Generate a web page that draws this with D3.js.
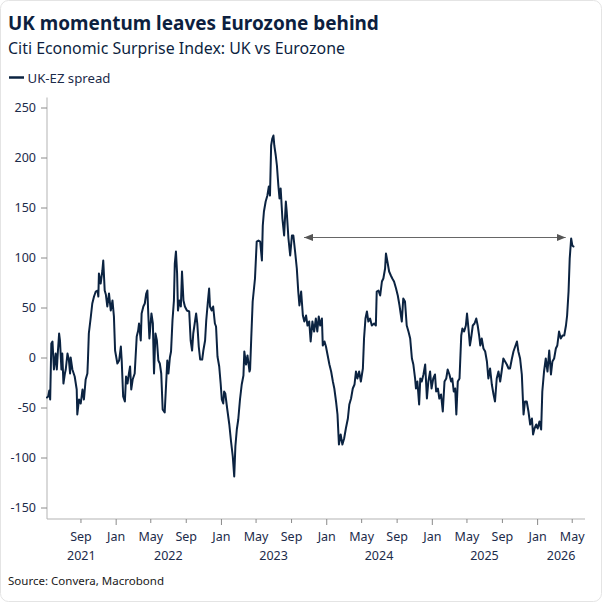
<!DOCTYPE html>
<html>
<head>
<meta charset="utf-8">
<script src="https://cdn.jsdelivr.net/npm/d3@7"></script>
<style>
  html, body { margin: 0; padding: 0; background: #fff; }
  svg { display: block; }
  text { font-family: "Noto Sans", "Open Sans", sans-serif; }
</style>
</head>
<body>
<svg id="chart" width="602" height="602"></svg>
<script>
// ---------------- DATA ----------------
const titleText = "UK momentum leaves Eurozone behind";
const subtitleText = "Citi Economic Surprise Index: UK vs Eurozone";
const seriesName = "UK-EZ spread";
const sourceText = "Source: Convera, Macrobond";

const dates = [
  "2021-05-08","2021-05-12","2021-05-16","2021-05-19","2021-05-23","2021-05-27",
  "2021-06-01","2021-06-07","2021-06-11","2021-06-15","2021-06-19","2021-06-22","2021-06-27","2021-06-30",
  "2021-07-04","2021-07-09","2021-07-12","2021-07-18","2021-07-23","2021-07-27","2021-07-29",
  "2021-08-04","2021-08-12","2021-08-19","2021-08-21","2021-08-27",
  "2021-09-02","2021-09-08","2021-09-13","2021-09-19","2021-09-25","2021-09-27","2021-09-30",
  "2021-10-07","2021-10-12","2021-10-18","2021-10-24","2021-10-30",
  "2021-11-02","2021-11-04","2021-11-10","2021-11-16","2021-11-19","2021-11-24","2021-11-28",
  "2021-12-03","2021-12-09","2021-12-15","2021-12-21","2021-12-26","2021-12-30",
  "2022-01-07","2022-01-13","2022-01-19","2022-01-22","2022-01-27",
  "2022-02-02","2022-02-06","2022-02-11","2022-02-16","2022-02-20","2022-02-24",
  "2022-03-01","2022-03-08","2022-03-15","2022-03-20","2022-03-23","2022-03-29",
  "2022-04-01","2022-04-07","2022-04-12","2022-04-17","2022-04-21","2022-04-24","2022-04-28",
  "2022-05-05","2022-05-10","2022-05-14","2022-05-19","2022-05-24","2022-05-29",
  "2022-06-03","2022-06-08","2022-06-13","2022-06-20","2022-06-25","2022-06-29",
  "2022-07-03","2022-07-08","2022-07-12","2022-07-17","2022-07-22","2022-07-25","2022-07-29",
  "2022-08-02","2022-08-05","2022-08-10","2022-08-15","2022-08-19","2022-08-24","2022-08-29",
  "2022-09-05","2022-09-13","2022-09-18","2022-09-23","2022-09-27",
  "2022-10-02","2022-10-07","2022-10-11","2022-10-16","2022-10-21","2022-10-28",
  "2022-11-01","2022-11-07","2022-11-11","2022-11-17","2022-11-21","2022-11-24","2022-11-30",
  "2022-12-05","2022-12-11","2022-12-15","2022-12-20","2022-12-26","2022-12-31",
  "2023-01-04","2023-01-09","2023-01-12","2023-01-16","2023-01-23","2023-01-30",
  "2023-02-05","2023-02-11","2023-02-16","2023-02-20","2023-02-25",
  "2023-03-02","2023-03-08","2023-03-14","2023-03-20","2023-03-23","2023-03-29",
  "2023-04-03","2023-04-10","2023-04-12","2023-04-16","2023-04-21","2023-04-29",
  "2023-05-05","2023-05-11","2023-05-17","2023-05-23","2023-05-26","2023-05-30",
  "2023-06-05","2023-06-11","2023-06-16","2023-06-20","2023-06-24","2023-06-28",
  "2023-07-02","2023-07-05","2023-07-10","2023-07-14","2023-07-19","2023-07-23","2023-07-27",
  "2023-08-02","2023-08-08","2023-08-14","2023-08-17","2023-08-23","2023-08-29",
  "2023-09-04","2023-09-09","2023-09-15","2023-09-21","2023-09-26","2023-09-30",
  "2023-10-06","2023-10-12","2023-10-17","2023-10-23","2023-10-28",
  "2023-11-03","2023-11-08","2023-11-14","2023-11-20","2023-11-26",
  "2023-12-01","2023-12-06","2023-12-11","2023-12-17","2023-12-20","2023-12-26","2023-12-31",
  "2024-01-06","2024-01-12","2024-01-18","2024-01-24","2024-01-29",
  "2024-02-04","2024-02-09","2024-02-14","2024-02-20","2024-02-26",
  "2024-03-03","2024-03-09","2024-03-16","2024-03-21","2024-03-27",
  "2024-04-02","2024-04-08","2024-04-13","2024-04-18","2024-04-24","2024-04-30",
  "2024-05-07","2024-05-11","2024-05-16","2024-05-21","2024-05-26",
  "2024-06-01","2024-06-07","2024-06-15","2024-06-21","2024-06-24","2024-06-30",
  "2024-07-06","2024-07-12","2024-07-17","2024-07-23","2024-07-26","2024-07-31",
  "2024-08-06","2024-08-12","2024-08-17","2024-08-23","2024-08-30",
  "2024-09-05","2024-09-11","2024-09-19","2024-09-24","2024-09-30",
  "2024-10-06","2024-10-12","2024-10-18","2024-10-24","2024-10-29",
  "2024-11-04","2024-11-07","2024-11-12","2024-11-18","2024-11-22","2024-11-27",
  "2024-12-03","2024-12-09","2024-12-15","2024-12-20","2024-12-26","2024-12-31",
  "2025-01-06","2025-01-12","2025-01-16","2025-01-22","2025-01-27",
  "2025-02-02","2025-02-08","2025-02-14","2025-02-20","2025-02-25",
  "2025-03-03","2025-03-09","2025-03-13","2025-03-18","2025-03-23","2025-03-27",
  "2025-04-01","2025-04-07","2025-04-13","2025-04-17","2025-04-23","2025-04-29",
  "2025-05-03","2025-05-08","2025-05-13","2025-05-17","2025-05-23","2025-05-29",
  "2025-06-04","2025-06-09","2025-06-14","2025-06-18","2025-06-23","2025-06-29",
  "2025-07-05","2025-07-11","2025-07-16","2025-07-22","2025-07-28",
  "2025-08-03","2025-08-08","2025-08-14","2025-08-20","2025-08-26","2025-08-31",
  "2025-09-06","2025-09-12","2025-09-18","2025-09-24","2025-09-29",
  "2025-10-05","2025-10-11","2025-10-17","2025-10-23","2025-10-28",
  "2025-11-03","2025-11-09","2025-11-15","2025-11-20","2025-11-26",
  "2025-12-02","2025-12-08","2025-12-14","2025-12-18","2025-12-23","2025-12-29",
  "2026-01-03","2026-01-09","2026-01-15","2026-01-19","2026-01-25","2026-01-31",
  "2026-02-06","2026-02-12","2026-02-18","2026-02-23",
  "2026-03-01","2026-03-07","2026-03-12","2026-03-18","2026-03-24","2026-03-30",
  "2026-04-05","2026-04-11","2026-04-15","2026-04-20","2026-04-24","2026-04-29",
  "2026-05-03","2026-05-07"
];

const spread = [
  -40,-39,-33,-42,14,16,
  -12,4,-12,7,24,17,-12,4,
  -26,-16,-12,4,-3,-16,0,
  -12,-19,-32,-57,-42,
  -46,-32,-42,-22,-16,-2,24,
  41,54,61,66,67,
  61,84,74,87,97,67,63,
  51,64,47,57,41,7,
  -6,-3,11,-3,-39,
  -44,-19,-26,-16,-9,-32,
  -22,-16,21,27,34,17,
  44,51,54,64,67,44,19,
  44,34,-16,24,17,-3,
  -6,-16,-52,-55,-26,-3,
  -16,0,6,37,57,94,106,
  84,47,57,51,86,57,51,
  47,46,17,7,24,
  34,44,34,11,-2,-2,
  7,17,37,57,69,51,47,
  51,34,31,1,-9,-26,
  -42,-46,-34,-36,-52,-67,
  -84,-99,-119,-89,-72,
  -62,-42,-27,-18,6,-7,
  2,-14,-12,19,56,79,
  116,117,116,97,132,146,
  156,162,171,162,212,219,
  222,212,202,192,172,159,169,
  139,122,156,146,119,102,
  122,122,106,89,66,52,
  66,42,36,42,32,
  36,16,36,26,39,
  26,41,32,39,12,16,11,
  2,-7,-14,-24,-31,
  -44,-57,-87,-77,-87,
  -81,-71,-61,-47,-41,
  -31,-27,-14,-21,-14,-24,
  -11,19,39,46,36,
  39,32,34,32,66,67,
  62,76,79,89,104,96,
  86,82,79,76,69,
  62,52,36,59,56,
  32,26,19,-1,-7,
  -21,-31,-24,-47,-21,-24,
  -17,-7,-41,-24,-14,-31,
  -21,-17,-34,-31,-41,
  -37,-54,-24,-21,-12,
  -17,-24,-21,-34,-31,-57,
  -24,-21,22,29,26,32,
  44,29,12,19,32,34,
  39,32,22,12,19,9,
  6,-4,-21,-11,-27,
  -37,-44,-21,-14,-24,-14,
  -1,-4,-7,-11,-11,
  -2,6,11,16,6,
  -1,-17,-57,-44,-44,
  -54,-67,-61,-77,-71,-67,
  -71,-64,-72,-34,-14,-1,
  -14,7,-17,-4,
  -1,9,12,26,19,22,
  22,32,42,66,99,119,
  112,111
];

const yTicks = [-150, -100, -50, 0, 50, 100, 150, 200, 250];
const monthTicks = [
  "2021-09-01","2022-01-01","2022-05-01","2022-09-01",
  "2023-01-01","2023-05-01","2023-09-01",
  "2024-01-01","2024-05-01","2024-09-01",
  "2025-01-01","2025-05-01","2025-09-01",
  "2026-01-01","2026-05-01"
];
const yearLabels = [2021, 2022, 2023, 2024, 2025, 2026];
const axisStart = "2021-05-08";
const axisEnd = "2026-06-16";
const yDomain = [-161.5, 260];

// annotation arrow: from the Sep-2023 level to the latest reading
const arrowDates = ["2023-10-16", "2026-04-10"];
const arrowLevel = 120;

// ---------------- DRAW ----------------
const parse = d3.utcParse("%Y-%m-%d");
const data = dates.map((d, i) => ({ date: parse(d), value: spread[i] }));

const svg = d3.select("#chart");
const W = 602, H = 602;
const plot = { left: 47, right: 585, top: 97.5, bottom: 519 };

const navy = "#0b2341";
const textNavy = "#0d1f3f";
const axisText = "#1c2b4a";
const axisGrey = "#b3b3b3";

// faint card border
svg.append("rect")
  .attr("x", 0.5).attr("y", 0.5).attr("width", W - 1).attr("height", H - 1)
  .attr("rx", 8).attr("fill", "#fff").attr("stroke", "#e4e4e4");

const x = d3.scaleUtc().domain([parse(axisStart), parse(axisEnd)]).range([plot.left, plot.right]);
const y = d3.scaleLinear().domain(yDomain).range([plot.bottom, plot.top]);

function fitText(sel, target) {
  const node = sel.node();
  const fs = parseFloat(sel.attr("font-size"));
  const w = node.getComputedTextLength();
  sel.attr("font-size", (fs * target / w).toFixed(2));
}

// Title & subtitle
const title = svg.append("text").attr("x", 8).attr("y", 30)
  .attr("font-size", 21).attr("font-weight", 700).attr("fill", textNavy).text(titleText);
fitText(title, 371);
const sub = svg.append("text").attr("x", 8).attr("y", 53.5)
  .attr("font-size", 16.5).attr("fill", textNavy).text(subtitleText);
fitText(sub, 337);

// Legend
svg.append("line").attr("x1", 9).attr("x2", 24).attr("y1", 77.5).attr("y2", 77.5)
  .attr("stroke", navy).attr("stroke-width", 2.5);
const leg = svg.append("text").attr("x", 27.5).attr("y", 82.5)
  .attr("font-size", 13).attr("fill", axisText).text(seriesName);
fitText(leg, 83);

// Y axis
const yAxis = svg.append("g").attr("transform", `translate(${plot.left},0)`)
  .call(d3.axisLeft(y).tickValues(yTicks).tickSize(6).tickPadding(5).tickFormat(d3.format("d")));
yAxis.select(".domain").attr("stroke", axisGrey).attr("d", `M0,${plot.top}V${plot.bottom}`);
yAxis.selectAll(".tick line").attr("stroke", "#8a8a8a");
yAxis.selectAll(".tick text").attr("fill", axisText).attr("font-size", 12.5)
  .attr("font-family", "'Noto Sans', sans-serif").text(d => d < 0 ? "-" + Math.abs(d) : d);

// X axis
const monthDates = monthTicks.map(parse);
const xAxis = svg.append("g").attr("transform", `translate(0,${plot.bottom})`)
  .call(d3.axisBottom(x).tickValues(monthDates).tickSize(4).tickFormat(d3.utcFormat("%b")));
xAxis.select(".domain").attr("stroke", axisGrey).attr("d", `M${plot.left},0H${plot.right}`);
xAxis.selectAll(".tick line").attr("stroke", "#8a8a8a")
  .attr("y2", d => d.getUTCMonth() === 0 ? 6 : 4);
xAxis.selectAll(".tick text").attr("fill", axisText).attr("font-size", 12.5)
  .attr("font-family", "'Noto Sans', sans-serif").attr("y", 13);

// Year labels centred in the visible part of each year
const [d0, d1] = x.domain();
svg.append("g").selectAll("text").data(yearLabels).join("text")
  .attr("x", yr => {
    const a = new Date(Math.max(Date.UTC(yr, 0, 1), d0));
    const b = new Date(Math.min(Date.UTC(yr + 1, 0, 1), d1));
    return (x(a) + x(b)) / 2;
  })
  .attr("y", 560).attr("text-anchor", "middle").attr("font-size", 12.5)
  .attr("fill", axisText).text(d => d);

// Series line
const line = d3.line().x(d => x(d.date)).y(d => y(d.value));
svg.append("path").datum(data)
  .attr("d", line).attr("fill", "none").attr("stroke", navy)
  .attr("stroke-width", 2).attr("stroke-linejoin", "round").attr("stroke-linecap", "round");

// Arrow annotation
const defs = svg.append("defs");
defs.append("marker").attr("id", "arrowhead")
  .attr("viewBox", "0 -4 9 8").attr("refX", 9).attr("refY", 0)
  .attr("markerWidth", 9).attr("markerHeight", 8)
  .attr("markerUnits", "userSpaceOnUse").attr("orient", "auto-start-reverse")
  .append("path").attr("d", "M0,-3.6L9,0L0,3.6Z").attr("fill", "#555");
svg.append("line")
  .attr("x1", x(parse(arrowDates[0]))).attr("x2", x(parse(arrowDates[1])))
  .attr("y1", y(arrowLevel)).attr("y2", y(arrowLevel))
  .attr("stroke", "#666").attr("stroke-width", 1.2)
  .attr("marker-start", "url(#arrowhead)").attr("marker-end", "url(#arrowhead)");

// Source
const src = svg.append("text").attr("x", 8).attr("y", 585)
  .attr("font-size", 11).attr("fill", "#1a1a1a").text(sourceText);
fitText(src, 156);
</script>
</body>
</html>
